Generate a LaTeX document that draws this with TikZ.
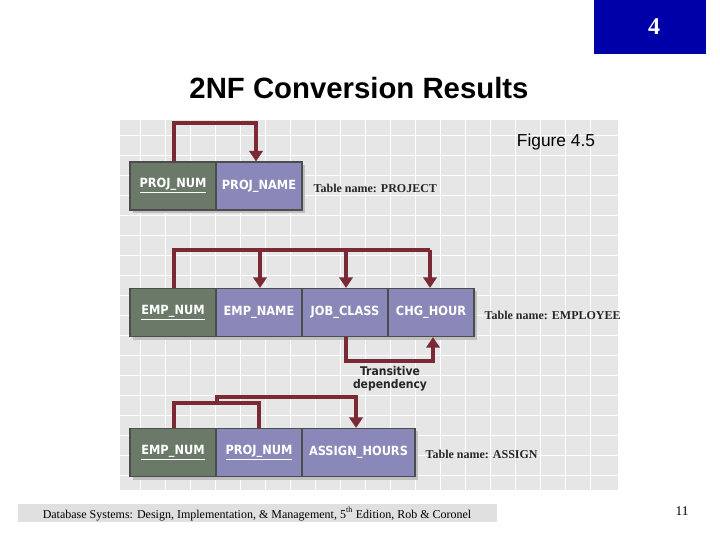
\documentclass[tikz,border=0pt]{standalone}
\usepackage{fontspec}
\setmainfont{Liberation Serif}
\setsansfont{Liberation Sans}
\newfontfamily\cell{DejaVu Sans Condensed}
\usetikzlibrary{arrows.meta}
\definecolor{keyc}{HTML}{6B7A68}
\definecolor{attc}{HTML}{8A88B8}
\definecolor{arr}{HTML}{7A2A35}
\definecolor{figbg}{HTML}{E6E6E6}
\definecolor{hdr}{HTML}{0000A8}
\begin{document}
\begin{tikzpicture}[x=0.75pt,y=-0.75pt,
  cellbox/.style={draw=black!70,line width=0.8pt,minimum height=36pt,inner sep=0pt,text=white,font=\cell\bfseries\fontsize{9.5}{9.5}\selectfont},
  keybox/.style={cellbox,fill=keyc},
  attbox/.style={cellbox,fill=attc},
  dep/.style={draw=arr,line width=2.8pt},
  deparrow/.style={dep,-{Triangle[length=8pt,width=10pt]}},
  tname/.style={anchor=west,font=\fontsize{9}{9}\selectfont\bfseries,text=black!85}]
\useasboundingbox (0,0) rectangle (720,540);
\fill[white] (0,0) rectangle (720,540);
% header
\fill[hdr] (594,0) rectangle (706,54);
\node[text=white,font=\bfseries\fontsize{18}{18}\selectfont] (num) at (654,27) {4};
\node[font=\sffamily\bfseries\fontsize{22}{22}\selectfont] (title) at (359,88) {2NF Conversion Results};
% figure background
\fill[figbg] (120,120) rectangle (618,490);
\foreach \x in {140,165,...,610} \draw[white,line width=0.6pt] (\x,120) -- (\x,490);
\foreach \y in {135,155,...,485} \draw[white,line width=0.6pt] (120,\y) -- (618,\y);
\node[font=\sffamily\fontsize{13}{13}\selectfont] (fig) at (556,142) {Figure 4.5};
% PROJECT
\fill[black!25] (133,165) rectangle (305,213);
\node[keybox,minimum width=64.5pt] (pn) at (173,186) {\underline{PROJ\_NUM}};
\node[attbox,minimum width=64.5pt] (pnm) at (259,186) {PROJ\_NAME};
\node[tname] (t1) at (309,188) {Table name: PROJECT};
\coordinate (p1) at (174,123); \coordinate (p2) at (256,123);
\draw[deparrow] (pn.north -| p1) -- (p1) -- (p2) -- (pnm.north -| p2);
% EMPLOYEE
\fill[black!25] (133,291) rectangle (477,340);
\node[keybox,minimum width=64.5pt] (en) at (173,312.5) {\underline{EMP\_NUM}};
\node[attbox,minimum width=64.5pt] (enm) at (259,312.5) {EMP\_NAME};
\node[attbox,minimum width=64.5pt] (jc) at (345,312.5) {JOB\_CLASS};
\node[attbox,minimum width=64.5pt] (ch) at (431,312.5) {CHG\_HOUR};
\node[tname] (t2) at (480,315) {Table name: EMPLOYEE};
\coordinate (e1) at (174,250); \coordinate (e2) at (430,250);
\draw[dep] (en.north -| e1) -- (e1) -- (e2);
\draw[deparrow] (e2) -- (ch.north -| e2);
\draw[deparrow] (260,250) -- (enm.north -| 260,0);
\draw[deparrow] (346,250) -- (jc.north -| 346,0);
\coordinate (tr1) at (346,361); \coordinate (tr2) at (433,361);
\draw[deparrow] (jc.south -| tr1) -- (tr1) -- (tr2) -- (ch.south -| tr2);
\node[font=\cell\bfseries\fontsize{9}{10}\selectfont,align=center,text=black!85] (tl) at (390,379) {Transitive\\dependency};
% ASSIGN
\fill[black!25] (133,431) rectangle (418,480);
\node[keybox,minimum width=64.5pt] (an) at (173,452.5) {\underline{EMP\_NUM}};
\node[keybox,fill=attc,minimum width=64.5pt] (ap) at (259,452.5) {\underline{PROJ\_NUM}};
\node[attbox,minimum width=84.75pt] (ah) at (358.5,452.5) {ASSIGN\_HOURS};
\node[tname] (t3) at (421,454) {Table name: ASSIGN};
\coordinate (a1) at (174,403); \coordinate (a2) at (259,403);
\draw[dep] (an.north -| a1) -- (a1) -- (a2) -- (ap.north -| a2);
\coordinate (a3) at (217,397); \coordinate (a4) at (356,397);
\draw[deparrow] (a3 |- a1) -- (a3) -- (a4) -- (ah.north -| a4);
% footer
\fill[black!12] (18,504) rectangle (497,522);
\node[font=\fontsize{9}{9}\selectfont] (foot) at (257,514) {Database Systems: Design, Implementation, \& Management, 5\textsuperscript{th} Edition, Rob \& Coronel};
\node[font=\fontsize{10}{10}\selectfont] (pg) at (682,511) {11};
\end{tikzpicture}
\end{document}
